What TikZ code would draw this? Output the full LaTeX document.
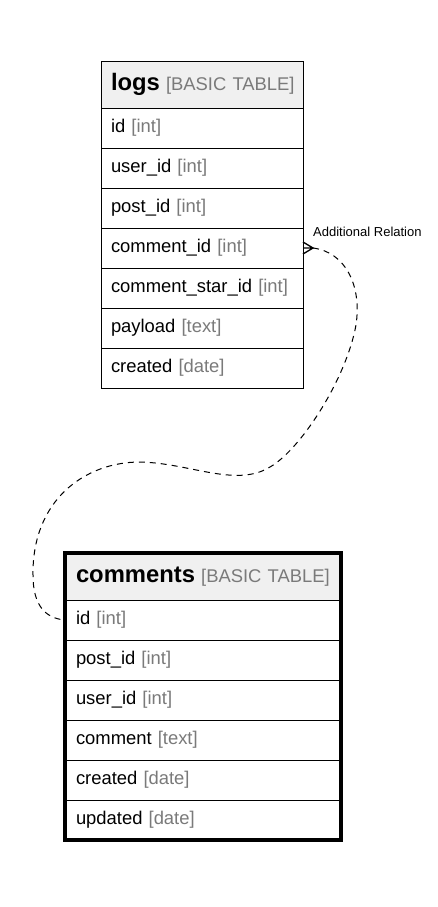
\documentclass[tikz,border=0pt]{standalone}
\usepackage{fontspec}
\setmainfont{Liberation Sans}
\usetikzlibrary{positioning}
\definecolor{typegray}{RGB}{122,122,122}
\definecolor{headfill}{RGB}{240,240,240}
\newcommand{\tname}[1]{\mbox{{\bfseries\fontsize{23.8}{26}\selectfont #1 }{\color{typegray}[BASIC TABLE]}}}
\newcommand{\ftype}[1]{{\color{typegray}[#1]}}
\begin{document}
\begin{tikzpicture}[x=1pt,y=-1pt,
  cell/.style={draw, line width=1pt, outer sep=0pt, align=left, font=\fontsize{18.4}{22}\selectfont},
  tblhead/.style={cell, fill=headfill, minimum height=46pt, text height=17pt, text depth=6pt},
  tblrow/.style={cell, fill=white, minimum height=40pt, text height=13.8pt, text depth=4.6pt},
  logw/.style={inner xsep=10pt, text width=182pt},
  comw/.style={inner xsep=11.5pt, text width=253pt},
  rel/.style={line width=1pt, dash pattern=on 6pt off 5pt}]
\useasboundingbox (0,0) rectangle (437,907);
% logs
\node [tblhead, logw, anchor=north west] (lhead) at (101,62) {\tname{logs}};
\node [tblrow, logw, below=0pt of lhead] (lid) {id \ftype{int}};
\node [tblrow, logw, below=0pt of lid] (luser) {user\_id \ftype{int}};
\node [tblrow, logw, below=0pt of luser] (lpost) {post\_id \ftype{int}};
\node [tblrow, logw, below=0pt of lpost] (lcomment) {comment\_id \ftype{int}};
\node [tblrow, logw, below=0pt of lcomment] (lstar) {comment\_star\_id \ftype{int}};
\node [tblrow, logw, below=0pt of lstar] (lpayload) {payload \ftype{text}};
\node [tblrow, logw, below=0pt of lpayload] (lcreated) {created \ftype{date}};
% comments
\node [tblhead, comw, minimum height=47pt, anchor=north west] (chead) at (64.5,553) {\tname{comments}};
\node [tblrow, comw, below=0pt of chead] (cid) {id \ftype{int}};
\node [tblrow, comw, below=0pt of cid] (cpost) {post\_id \ftype{int}};
\node [tblrow, comw, below=0pt of cpost] (cuser) {user\_id \ftype{int}};
\node [tblrow, comw, below=0pt of cuser] (ccomment) {comment \ftype{text}};
\node [tblrow, comw, below=0pt of ccomment] (ccreated) {created \ftype{date}};
\node [tblrow, comw, below=0pt of ccreated] (cupdated) {updated \ftype{date}};
\draw [line width=4pt] (chead.north west) rectangle (cupdated.south east);
% relation
\coordinate (foot) at ([xshift=10pt]lcomment.east);
\draw [line width=1.3pt] ([yshift=6pt]lcomment.east) -- (foot) -- ([yshift=-6pt]lcomment.east) (lcomment.east) -- (foot);
\draw [rel] (foot) .. controls (345,252) and (362,285) .. (356,325)
  .. controls (346,380) and (300,450) .. (270,467)
  .. controls (236,488) and (190,463) .. (140,462)
  .. controls (85,462) and (32,500) .. (33,575)
  .. controls (33,605) and (45,618) .. (cid.west);
\node [font=\fontsize{13}{15}\selectfont, anchor=base west, inner sep=0pt] (rellabel) at (313,236) {Additional Relation};
\end{tikzpicture}
\end{document}
